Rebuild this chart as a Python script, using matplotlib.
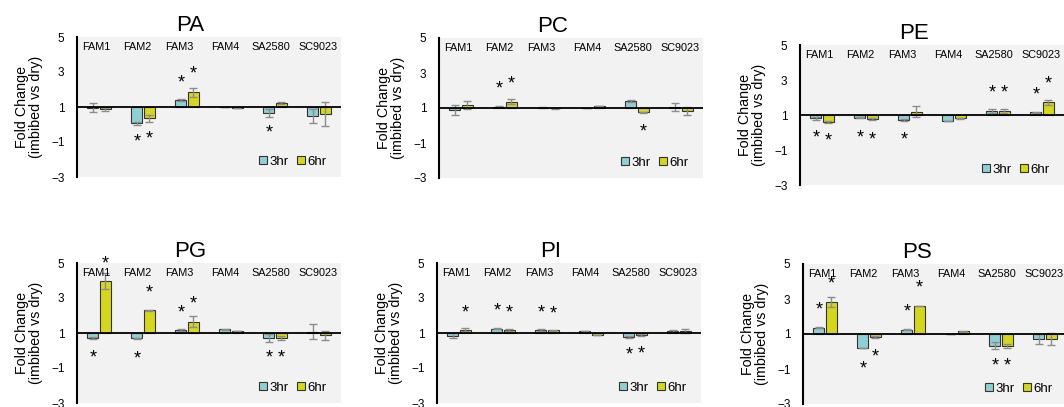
import matplotlib.pyplot as plt

plt.rcParams['font.family'] = ['Liberation Sans', 'DejaVu Sans']

W, H = 1064, 407

categories = ['FAM1', 'FAM2', 'FAM3', 'FAM4', 'SA2580', 'SC9023']
series = ['3hr', '6hr']

# fold change values, error bars and star heights (None = no star), per lipid class
PA_3hr = [0.97, 0.07, 1.40, 1.00, 0.64, 0.49]
PA_6hr = [0.87, 0.35, 1.84, 0.97, 1.23, 0.60]
PA_3hr_err = [0.27, 0.08, 0.08, 0.00, 0.23, 0.41]
PA_6hr_err = [0.10, 0.20, 0.27, 0.00, 0.07, 0.67]
PA_3hr_star = [None, -0.70, 2.70, None, -0.18, None]
PA_6hr_star = [None, -0.50, 3.17, None, None, None]

PC_3hr = [0.89, 1.08, 1.02, 1.00, 1.40, 1.07]
PC_6hr = [1.17, 1.36, 0.98, 1.13, 0.75, 0.83]
PC_3hr_err = [0.29, 0.04, 0.03, 0.00, 0.08, 0.22]
PC_6hr_err = [0.22, 0.13, 0.02, 0.00, 0.05, 0.23]
PC_3hr_star = [None, 2.41, None, None, None, None]
PC_6hr_star = [None, 2.70, None, None, -0.07, None]

PE_3hr = [0.81, 0.85, 0.71, 0.66, 1.23, 1.15]
PE_6hr = [0.62, 0.77, 1.19, 0.81, 1.23, 1.72]
PE_3hr_err = [0.10, 0.03, 0.04, 0.01, 0.10, 0.05]
PE_6hr_err = [0.05, 0.04, 0.30, 0.01, 0.12, 0.12]
PE_3hr_star = [-0.01, -0.01, -0.14, None, 2.56, 2.47]
PE_6hr_star = [-0.20, -0.10, None, None, 2.56, 3.06]

PG_3hr = [0.73, 0.70, 1.17, 1.21, 0.71, 1.08]
PG_6hr = [3.97, 2.31, 1.65, 1.11, 0.71, 0.87]
PG_3hr_err = [0.05, 0.03, 0.05, 0.02, 0.22, 0.41]
PG_6hr_err = [0.45, 0.03, 0.33, 0.01, 0.10, 0.27]
PG_3hr_star = [-0.12, -0.16, 2.45, None, -0.12, None]
PG_6hr_star = [5.27, 3.61, 2.94, None, -0.12, None]

PI_3hr = [0.85, 1.25, 1.19, 1.13, 0.79, 1.13]
PI_6hr = [1.19, 1.19, 1.15, 0.90, 0.89, 1.10]
PI_3hr_err = [0.13, 0.02, 0.05, 0.01, 0.05, 0.06]
PI_6hr_err = [0.10, 0.05, 0.04, 0.01, 0.04, 0.12]
PI_3hr_star = [None, 2.56, 2.47, None, 0.03, None]
PI_6hr_star = [2.47, 2.47, 2.41, None, 0.09, None]

PS_3hr = [1.36, 0.20, 1.25, 1.00, 0.33, 0.71]
PS_6hr = [2.83, 0.83, 2.60, 1.15, 0.30, 0.71]
PS_3hr_err = [0.03, 0.02, 0.03, 0.00, 0.20, 0.30]
PS_6hr_err = [0.28, 0.03, 0.02, 0.01, 0.12, 0.35]
PS_3hr_star = [2.68, -0.70, 2.54, None, -0.52, None]
PS_6hr_star = [4.14, 0.00, 3.95, None, -0.52, None]

panels = [
    ('PA', PA_3hr, PA_6hr, PA_3hr_err, PA_6hr_err, PA_3hr_star, PA_6hr_star, (77, 37)),
    ('PC', PC_3hr, PC_6hr, PC_3hr_err, PC_6hr_err, PC_3hr_star, PC_6hr_star, (439, 38)),
    ('PE', PE_3hr, PE_6hr, PE_3hr_err, PE_6hr_err, PE_3hr_star, PE_6hr_star, (800, 45)),
    ('PG', PG_3hr, PG_6hr, PG_3hr_err, PG_6hr_err, PG_3hr_star, PG_6hr_star, (77, 263)),
    ('PI', PI_3hr, PI_6hr, PI_3hr_err, PI_6hr_err, PI_3hr_star, PI_6hr_star, (437, 263)),
    ('PS', PS_3hr, PS_6hr, PS_3hr_err, PS_6hr_err, PS_3hr_star, PS_6hr_star, (803, 264)),
]

c3 = '#8fd0d6'
c6 = '#d6d61e'
bg = '#f2f2f2'
bar_w = 0.25
off = 0.14
label_shift = [-0.05, -0.12, -0.18, -0.14, -0.09, -0.03]
star_fs = 13

fig = plt.figure(figsize=(W / 100, H / 100), dpi=100)

for name, v3, v6, e3, e6, s3, s6, (left, top) in panels:
    ax = fig.add_axes([left / W, 1 - (top + 140) / H, 264 / W, 140 / H])
    ax.set_facecolor(bg)
    x = list(range(len(categories)))
    x3 = [i - off for i in x]
    x6 = [i + off for i in x]
    h3 = [v - 1 for v in v3]
    h6 = [v - 1 for v in v6]
    ax.bar(x3, h3, bar_w, bottom=1, color=c3, edgecolor='#333333', lw=0.8, label='3hr', zorder=2)
    ax.bar(x6, h6, bar_w, bottom=1, color=c6, edgecolor='#333333', lw=0.8, label='6hr', zorder=2)
    ax.errorbar(x3, v3, yerr=e3, fmt='none', ecolor='#8c8c8c', elinewidth=1, capsize=3, capthick=1, zorder=3)
    ax.errorbar(x6, v6, yerr=e6, fmt='none', ecolor='#8c8c8c', elinewidth=1, capsize=3, capthick=1, zorder=3)
    ax.axhline(1, color='black', lw=1.3, zorder=4)

    for xs, stars in ((x3, s3), (x6, s6)):
        for xi, sy in zip(xs, stars):
            if sy is None:
                continue
            ax.annotate('*', (xi, sy), xytext=(0, -0.55 * star_fs), textcoords='offset points',
                        ha='center', va='baseline', fontsize=star_fs, annotation_clip=False,
                        clip_on=False, zorder=5)

    for i, cat in enumerate(categories):
        ax.text(i + label_shift[i], 0.93, cat, transform=ax.get_xaxis_transform(),
                ha='center', va='center', fontsize=7.8)

    ax.set_xlim(-0.5, 5.5)
    ax.set_ylim(-3, 5)
    ax.set_yticks([5, 3, 1, -1, -3])
    ax.set_xticks([])
    ax.tick_params(axis='y', length=0, pad=9, labelsize=8.5)
    for s in ('top', 'right', 'bottom'):
        ax.spines[s].set_visible(False)
    ax.spines['left'].set_linewidth(1.5)
    ax.set_ylabel('Fold Change\n(imbibed vs dry)', fontsize=10.3, linespacing=1.0, labelpad=6)
    ax.set_title(name, fontsize=16, x=0.43, pad=4.5)
    ax.legend(loc='lower right', ncol=2, frameon=False, fontsize=9.5, handlelength=0.6,
              handleheight=0.6, handletextpad=0.2, columnspacing=0.6,
              bbox_to_anchor=(0.98, 0.0), borderaxespad=0.3)

fig.savefig('out.png', dpi=100)
